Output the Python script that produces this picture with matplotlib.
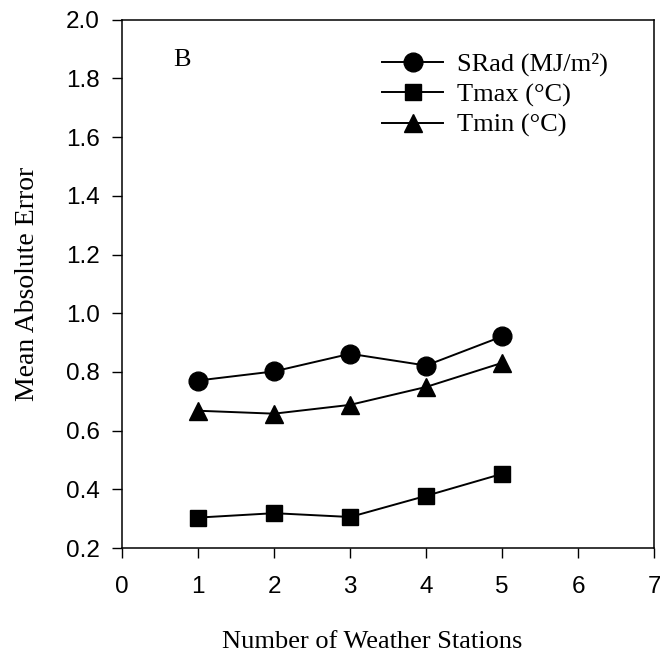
import matplotlib.pyplot as plt

stations = [1, 2, 3, 4, 5]
srad = [0.771, 0.802, 0.862, 0.822, 0.921]
tmax = [0.304, 0.319, 0.306, 0.378, 0.453]
tmin = [0.668, 0.658, 0.688, 0.749, 0.831]

serif = ['Liberation Serif', 'DejaVu Serif']
plt.rcParams['font.family'] = ['Liberation Sans', 'DejaVu Sans']

fig = plt.figure(figsize=(6.6, 6.58), dpi=100)
ax = fig.add_axes([0.185, 0.167, 0.806, 0.803])

ax.plot(stations, srad, color='black', lw=1.4, marker='o', ms=13.5, label='SRad (MJ/m²)')
ax.plot(stations, tmax, color='black', lw=1.4, marker='s', ms=11.5, label='Tmax (°C)')
ax.plot(stations, tmin, color='black', lw=1.4, marker='^', ms=13, label='Tmin (°C)')

ax.set_xlim(0, 7)
ax.set_ylim(0.2, 2.0)
ax.set_xticks(range(0, 8))
ax.set_yticks([0.2, 0.4, 0.6, 0.8, 1.0, 1.2, 1.4, 1.6, 1.8, 2.0])
ax.set_yticklabels(['%.1f' % v for v in ax.get_yticks()])
ax.tick_params(axis='x', direction='out', length=7, width=1, labelsize=17.5, pad=13)
ax.tick_params(axis='y', direction='out', length=7, width=1, labelsize=17.5, pad=9)
for s in ax.spines.values():
    s.set_linewidth(1.1)

ax.set_xlabel('Number of Weather Stations', fontsize=19, family=serif, labelpad=24)
ax.xaxis.label.set_x(0.47)
ax.set_ylabel('Mean Absolute Error', fontsize=20, family=serif, labelpad=19)

ax.text(0.096, 0.924, 'B', transform=ax.transAxes, fontsize=19, family=serif, va='center')

ax.legend(loc='upper left', bbox_to_anchor=(0.489, 0.938), frameon=False,
          prop={'family': serif, 'size': 19}, handlelength=2.3, handletextpad=0.53,
          labelspacing=0.25, borderpad=0, borderaxespad=0)

fig.savefig('out.png', dpi=100)
